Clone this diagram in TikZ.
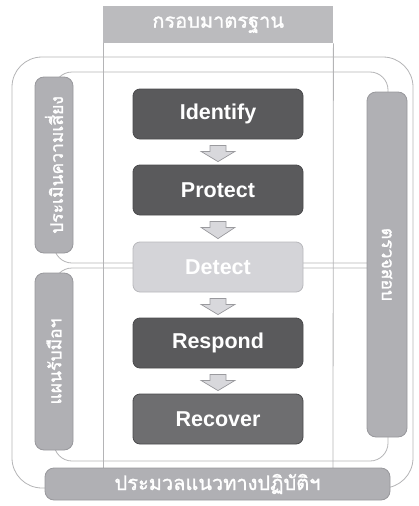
\documentclass[tikz,border=0pt]{standalone}
\usepackage{fontspec}
\setmainfont{Liberation Sans}
\newfontfamily\thai[Script=Thai,AutoFakeBold=1.5]{Loma}
\usetikzlibrary{calc}
\definecolor{lineg}{HTML}{B4B4B6}
\definecolor{sidefill}{HTML}{B0B0B4}
\definecolor{sidedraw}{HTML}{98989C}
\definecolor{tabfill}{HTML}{BBBBBE}
\definecolor{darkfill}{HTML}{5A5A5C}
\definecolor{darkdraw}{HTML}{4A4A4C}
\definecolor{recfill}{HTML}{6E6E70}
\definecolor{detfill}{HTML}{D4D4D8}
\definecolor{detdraw}{HTML}{B8B8BC}
\definecolor{arrfill}{HTML}{D8D8DC}
\definecolor{arrdraw}{HTML}{9A9A9E}
\tikzset{
  frame/.style={draw=lineg, line width=0.8pt, rounded corners=18pt},
  sidebox/.style={draw=sidedraw, fill=sidefill, line width=0.8pt, rounded corners=9pt, inner sep=0pt, text=white},
  stagebox/.style={draw=darkdraw, fill=darkfill, line width=0.8pt, rounded corners=7pt, minimum width=170pt, minimum height=50pt, inner sep=0pt, text=white, font=\fontsize{21.5}{25}\selectfont\bfseries},
  barrow/.style={draw=arrdraw, fill=arrfill, line width=0.7pt, line join=miter},
  thaitext/.style={font=\thai\fontsize{20}{24}\selectfont\bfseries, text=white},
  thaiside/.style={font=\thai\fontsize{17.5}{22}\selectfont\bfseries, text=white}
}
\begin{document}
\begin{tikzpicture}[x=1pt,y=-1pt]
\useasboundingbox (0,0) rectangle (419,506);
% frames
\draw[frame, rounded corners=30pt] (12,57) rectangle (413,488);
\draw[frame] (54,72) rectangle (388,263);
\draw[frame] (54,268) rectangle (388,461);
% tab and columns
\node[fill=tabfill, minimum width=230pt, minimum height=37pt, inner sep=0pt, anchor=north west] (tab) at (103,6) {};
\node[thaitext] (tabtext) at (tab.center) {กรอบมาตรฐาน};
\coordinate (cl) at (103,468);
\coordinate (cr) at (333,468);
\draw[lineg, line width=0.8pt] (tab.south west) -- (cl);
\draw[lineg, line width=0.8pt] (tab.south east) -- (cr);
% side boxes
\node[sidebox, minimum width=38pt, minimum height=176pt] (risk) at (54,165) {};
\node[thaiside, rotate=90] (risktext) at (risk.center) {ประเมินความเสี่ยง};
\node[sidebox, minimum width=38pt, minimum height=177pt] (plan) at (54,361.5) {};
\node[thaiside, rotate=90] (plantext) at (plan.center) {แผนรับมือฯ};
\node[sidebox, minimum width=40pt, minimum height=345pt] (audit) at (387,264.5) {};
\node[thaiside, rotate=-90] (audittext) at (audit.center) {ตรวจสอบ};
% bottom bar
\node[sidebox, minimum width=345pt, minimum height=32pt] (guide) at (217.5,484) {};
\node[thaitext] (guidetext) at (guide.center) {ประมวลแนวทางปฏิบัติฯ};
% stages
\node[stagebox] (id) at (218,114) {Identify};
\node[stagebox] (pr) at (218,190) {Protect};
\node[stagebox, draw=detdraw, fill=detfill] (de) at (218,267) {Detect};
\node[stagebox] (re) at (218,343) {Respond};
\node[stagebox, fill=recfill] (rc) at (218,419) {Recover};
% block arrows
\foreach \a/\b in {id/pr,pr/de,de/re,re/rc}{
  \draw[barrow] ($(\a.south)+(-8,6)$) -- ($(\a.south)+(8,6)$) -- ($(\a.south)+(8,12)$) -- ($(\a.south)+(17,12)$) -- ($(\b.north)+(0,-3)$) -- ($(\a.south)+(-17,12)$) -- ($(\a.south)+(-8,12)$) -- cycle;
}
\end{tikzpicture}
\end{document}
